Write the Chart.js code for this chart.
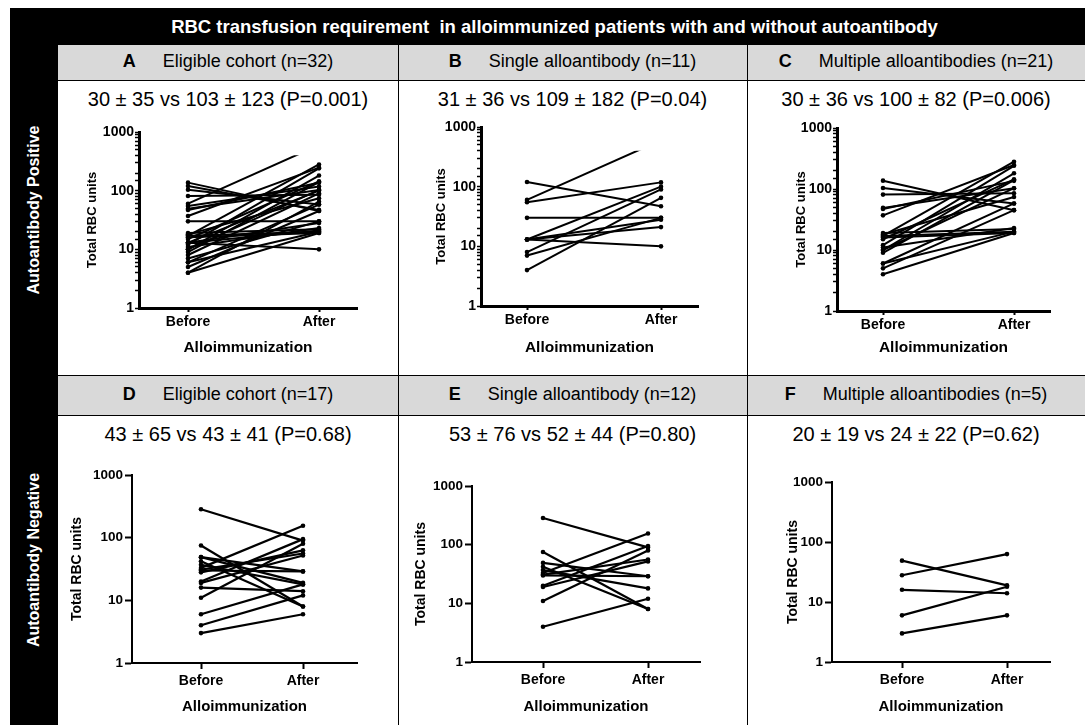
<!DOCTYPE html>
<html lang="en">
<head>
<meta charset="UTF-8">
<title>RBC transfusion requirement</title>
<script src="https://cdn.jsdelivr.net/npm/chart.js"></script>
<style>
    body {
        margin: 0;
        width: 1085px;
        height: 725px;
        overflow: hidden;
        position: relative;
        background: #fff;
        font-family: "Liberation Sans", Arial, sans-serif;
        color: #000;
    }
    .abs { position: absolute; box-sizing: border-box; }
    #titlebar {
        left: 10px; top: 8px; width: 1075px; height: 37px;
        background: #000; color: #fff; font-weight: bold; font-size: 18.5px;
        line-height: 38px; text-align: center; padding-left: 14px;
    }
    #side { left: 10px; top: 8px; width: 48px; height: 717px; background: #000; }
    .vlabel {
        position: absolute; left: 34px; color: #fff; font-weight: bold; font-size: 16px;
        white-space: nowrap; transform: translate(-50%, -50%) rotate(-90deg);
    }
    .head { background: #d9d9d9; font-size: 18px; text-align: center; }
    .head b { margin-right: 27px; }
    .sub { font-size: 20px; text-align: center; }
    .hline { height: 1px; background: #000; left: 58px; width: 1027px; }
    .vline { width: 1px; background: #000; top: 45px; height: 680px; }
    canvas { position: absolute; }
</style>
</head>
<body>
<div id="titlebar" class="abs">RBC transfusion requirement&nbsp; in alloimmunized patients with and without autoantibody</div>
<div id="side" class="abs"></div>
<div class="vlabel" style="top:210px">Autoantibody Positive</div>
<div class="vlabel" style="top:560px">Autoantibody Negative</div>

<div class="abs head" style="left:58px;top:45px;width:1027px;height:35px"></div>
<div class="abs head" style="left:58px;top:375px;width:1027px;height:40px"></div>
<div class="abs hline" style="top:80px"></div>
<div class="abs hline" style="top:375px"></div>
<div class="abs hline" style="top:415px"></div>
<div class="abs vline" style="left:398px"></div>
<div class="abs vline" style="left:747px"></div>

<div class="abs head" style="left:58px;top:51px;width:340px;background:none"><b>A</b>Eligible cohort (n=32)</div>
<div class="abs head" style="left:398px;top:51px;width:349px;background:none"><b>B</b>Single alloantibody (n=11)</div>
<div class="abs head" style="left:747px;top:51px;width:338px;background:none"><b>C</b>Multiple alloantibodies (n=21)</div>
<div class="abs head" style="left:58px;top:384px;width:340px;background:none"><b>D</b>Eligible cohort (n=17)</div>
<div class="abs head" style="left:398px;top:384px;width:349px;background:none"><b>E</b>Single alloantibody (n=12)</div>
<div class="abs head" style="left:747px;top:384px;width:338px;background:none"><b>F</b>Multiple alloantibodies (n=5)</div>

<div class="abs sub" style="left:58px;top:88px;width:340px">30 ± 35 vs 103 ± 123 (P=0.001)</div>
<div class="abs sub" style="left:398px;top:88px;width:349px">31 ± 36 vs 109 ± 182 (P=0.04)</div>
<div class="abs sub" style="left:747px;top:88px;width:338px">30 ± 36 vs 100 ± 82 (P=0.006)</div>
<div class="abs sub" style="left:58px;top:423px;width:340px">43 ± 65 vs 43 ± 41 (P=0.68)</div>
<div class="abs sub" style="left:398px;top:423px;width:349px">53 ± 76 vs 52 ± 44 (P=0.80)</div>
<div class="abs sub" style="left:747px;top:423px;width:338px">20 ± 19 vs 24 ± 22 (P=0.62)</div>

<canvas id="pA"></canvas>
<canvas id="pB"></canvas>
<canvas id="pC"></canvas>
<canvas id="pD"></canvas>
<canvas id="pE"></canvas>
<canvas id="pF"></canvas>

<script>
    // x categories and y tick labels
    const groups = ['Before', 'After'];
    const yTicks = [1, 10, 100, 1000];

    // autoantibody positive, single alloantibody (B)
    const bBefore = [120, 60, 55, 30, 13, 13, 13, 8, 7, 4, 13];
    const bAfter  = [47, 600, 118, 30, 10, 28, 100, 90, 30, 65, 21];
    // autoantibody positive, multiple alloantibodies (C)
    const cBefore = [137, 104, 81, 49, 47, 37, 19, 17, 17, 16, 15, 12, 11, 10, 10, 9, 6, 6, 5, 4, 18];
    const cAfter  = [45, 58, 85, 103, 136, 247, 22, 280, 20, 19, 144, 240, 23, 181, 103, 140, 58, 20, 45, 19, 74];
    // autoantibody negative, single alloantibody (E)
    const eBefore = [285, 75, 49, 42, 37, 33, 31, 30, 20, 19, 11, 4];
    const eAfter  = [90, 8, 29, 8, 18, 155, 56, 29, 95, 52, 80, 12];
    // autoantibody negative, multiple alloantibodies (F)
    const fBefore = [49, 28, 16, 6, 3];
    const fAfter  = [19, 63, 14, 18, 6];

    // the one line in A/B runs out of the printed panel near this value
    const cutValue = 400;

    Chart.defaults.font.family = '"Liberation Sans", Arial, sans-serif';
    Chart.defaults.color = '#000';

    // canvas box (L,T,B) and plot area (l,t,r,b), before/after x pixel
    const panels = [
        {id: 'pA', before: bBefore.concat(cBefore), after: bAfter.concat(cAfter), upper: true,
         L: 85, T: 122, B: 357, l: 139, t: 132, r: 357, b: 308, xb: 188, xa: 319},
        {id: 'pB', before: bBefore, after: bAfter, upper: true,
         L: 434, T: 117, B: 357, l: 481, t: 127, r: 698, b: 306, xb: 527, xa: 661},
        {id: 'pC', before: cBefore, after: cAfter, upper: true,
         L: 794, T: 118, B: 357, l: 837, t: 128, r: 1050, b: 311, xb: 883, xa: 1014},
        {id: 'pD', before: eBefore.concat(fBefore), after: eAfter.concat(fAfter), upper: false,
         L: 69, T: 465, B: 716, l: 132, t: 475, r: 357, b: 663, xb: 201, xa: 303},
        {id: 'pE', before: eBefore, after: eAfter, upper: false,
         L: 413, T: 476, B: 716, l: 472, t: 486, r: 700, b: 662, xb: 543, xa: 648},
        {id: 'pF', before: fBefore, after: fAfter, upper: false,
         L: 785, T: 472, B: 716, l: 832, t: 482, r: 1050, b: 662, xb: 902, xa: 1007}
    ];

    // clip lines that leave the printed area (value above cutValue)
    const cutPlugin = {
        id: 'cut',
        beforeDatasetDraw(chart, args) {
            const ds = chart.data.datasets[args.index];
            if (!ds.cut) return;
            const a = chart.chartArea;
            const yTop = chart.scales.y.getPixelForValue(cutValue);
            chart.ctx.save();
            chart.ctx.beginPath();
            chart.ctx.rect(a.left - 5, yTop, a.right - a.left + 10, a.bottom - yTop + 5);
            chart.ctx.clip();
        },
        afterDatasetDraw(chart, args) {
            if (chart.data.datasets[args.index].cut) chart.ctx.restore();
        }
    };

    panels.forEach(p => {
        const cv = document.getElementById(p.id);
        const w = p.r - p.L + 4;
        const h = p.B - p.T;
        cv.width = w; cv.height = h;
        cv.style.left = p.L + 'px';
        cv.style.top = p.T + 'px';

        const unit = p.xa - p.xb;
        const xMin = -(p.xb - p.l) / unit;
        const xMax = 1 + (p.r - p.xa) / unit;
        const lw = p.upper ? 2 : 2.2;

        const datasets = p.before.map((v, i) => ({
            data: [{x: 0, y: v}, {x: 1, y: p.after[i]}],
            borderColor: '#000',
            backgroundColor: '#000',
            borderWidth: lw,
            pointRadius: 2.3,
            pointBorderWidth: 0,
            cut: p.after[i] > cutValue * 1.3
        }));

        const yScale = {
            type: 'logarithmic',
            min: 1,
            max: 1000,
            afterFit: s => { s.width = p.l - p.L; },
            ticks: {
                autoSkip: false,
                padding: p.upper ? 1 : 2,
                font: {size: p.upper ? 14 : 13.5, weight: 'bold'},
                callback: v => yTicks.includes(v) ? String(v) : ''
            },
            grid: {drawOnChartArea: false, drawTicks: true, tickLength: p.upper ? 4 : 7, tickColor: '#000', tickWidth: p.upper ? 1.5 : 2},
            border: {color: '#000', width: p.upper ? 3 : 2},
            title: {display: true, text: 'Total RBC units', padding: 0, font: {size: p.upper ? 13 : 14, weight: 'bold'}}
        };
        if (!p.upper) {
            yScale.afterBuildTicks = s => { s.ticks = yTicks.map(v => ({value: v})); };
        }

        new Chart(cv, {
            type: 'line',
            data: {datasets},
            plugins: [cutPlugin],
            options: {
                responsive: false,
                animation: false,
                layout: {padding: {top: p.t - p.T, right: 4, left: 0, bottom: 0}},
                plugins: {legend: {display: false}, tooltip: {enabled: false}},
                scales: {
                    x: {
                        type: 'linear',
                        min: xMin,
                        max: xMax,
                        afterFit: s => { s.height = p.B - p.b; },
                        afterBuildTicks: s => { s.ticks = groups.map((g, i) => ({value: i})); },
                        ticks: {
                            padding: p.upper ? 2 : 4,
                            font: {size: 14, weight: 'bold'},
                            callback: v => groups[v]
                        },
                        grid: {drawOnChartArea: false, drawTicks: true, tickLength: p.upper ? 4 : 6, tickColor: '#000', tickWidth: 2},
                        border: {color: '#000', width: p.upper ? 3 : 2},
                        title: {display: true, text: 'Alloimmunization', padding: 0, font: {size: p.upper ? 15.5 : 15, weight: 'bold'}}
                    },
                    y: yScale
                }
            }
        });
    });
</script>
</body>
</html>
